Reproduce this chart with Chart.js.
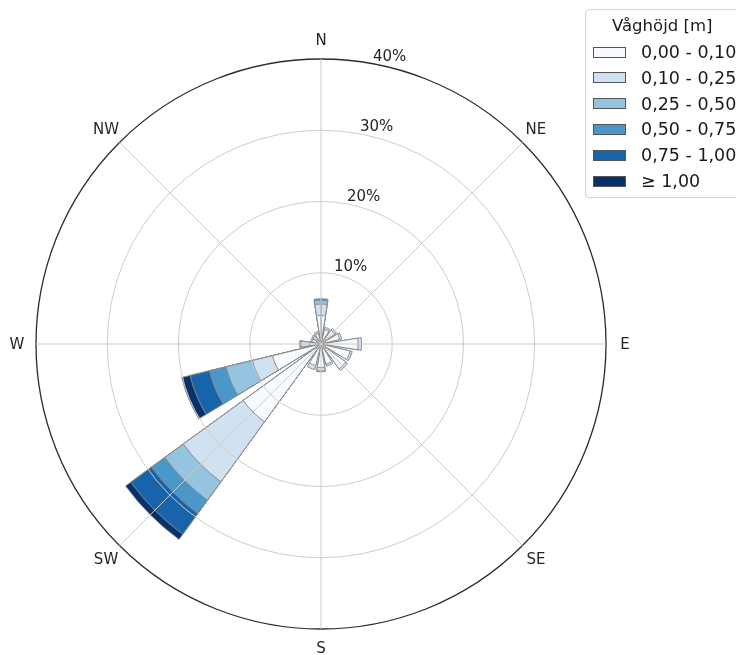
<!DOCTYPE html>
<html>
<head>
<meta charset="utf-8">
<script src="https://cdn.jsdelivr.net/npm/chart.js@4/dist/chart.umd.min.js"></script>
<style>
  html, body { margin: 0; padding: 0; background: #ffffff; overflow: hidden; }
  #wrap { position: relative; width: 736px; height: 655px; overflow: hidden; }
  #legend {
    position: absolute; left: 585px; top: 9px; width: 175px; height: 187px;
    border: 1px solid #d2d2d2; border-radius: 4px; background: rgba(255,255,255,0.85);
    font-family: "DejaVu Sans", sans-serif; color: #1a1a1a;
  }
  #legend .title { position: absolute; font-size: 16.5px; line-height: 20px; white-space: nowrap; }
  #legend .swatch { position: absolute; width: 33px; height: 11px; border: 1px solid #555555; box-sizing: border-box; }
  #legend .txt { position: absolute; font-size: 17.5px; line-height: 20px; white-space: nowrap; }
</style>
</head>
<body>
<div id="wrap">
  <canvas id="rose"></canvas>
  <div id="legend"></div>
</div>
<script>
// Compass sectors, clockwise from north
const directions = ['N', 'NNE', 'NE', 'ENE', 'E', 'ESE', 'SE', 'SSE',
                    'S', 'SSW', 'SW', 'WSW', 'W', 'WNW', 'NW', 'NNW'];

// Wave height classes [m]
const heightClasses = ['0,00 - 0,10', '0,10 - 0,25', '0,25 - 0,50',
                       '0,50 - 0,75', '0,75 - 1,00', '≥ 1,00'];
const legendTitle = 'Våghöjd [m]';

// Frequency of occurrence [%] per direction, one array per height class
const h000_010 = [4.0, 2.1, 2.4, 2.7, 5.2, 4.2, 4.3, 2.9, 3.3, 3.1, 13.5, 7.0, 1.6, 1.3, 1.4, 1.5];
const h010_025 = [1.6, 0.3, 0.3, 0.3, 0.5, 0.3, 0.3, 0.3, 0.5, 0.6, 10.4, 2.9, 1.2, 0.2, 0.2, 0.3];
const h025_050 = [0.5, 0, 0, 0, 0, 0, 0, 0, 0.1, 0, 3.2, 3.8, 0.2, 0, 0, 0];
const h050_075 = [0.25, 0, 0, 0, 0, 0, 0, 0, 0, 0, 2.3, 2.4, 0, 0, 0, 0];
const h075_100 = [0, 0, 0, 0, 0, 0, 0, 0, 0, 0, 3.6, 2.8, 0, 0, 0, 0];
const h100_up  = [0, 0, 0, 0, 0, 0, 0, 0, 0, 0, 0.9, 1.2, 0, 0, 0, 0];

// Radial rings [%]
const ringValues = [10, 20, 30, 40];

const classSeries = [h000_010, h010_025, h025_050, h050_075, h075_100, h100_up];
const palette = ['#f7fbff', '#d0e1f2', '#94c4df', '#4a98c9', '#1764ab', '#08306b'];
const edgeColor = '#8a8a8a';

// Each bar covers 80 % of its sector; the rest is an empty gap.
const SECTOR = 360 / directions.length;
const BAR = SECTOR * 0.8;
const GAP = SECTOR - BAR;

// Slot sequence around the circle starting at north: the north bar is split
// in two halves so the sequence can begin exactly on the 0° axis.
const slots = [{ dir: 0, angle: BAR / 2 }];
for (let d = 1; d < directions.length; d++) {
  slots.push({ dir: -1, angle: GAP });
  slots.push({ dir: d, angle: BAR });
}
slots.push({ dir: -1, angle: GAP });
slots.push({ dir: 0, angle: BAR / 2 });

// Stacked totals: class k reaches the sum of classes 0..k
const cumulative = classSeries.map((_, k) =>
  directions.map((_, d) => classSeries.slice(0, k + 1).reduce((s, arr) => s + arr[d], 0)));

const datasets = classSeries.map((series, k) => {
  const visible = (i) => { const s = slots[i]; return !!s && s.dir >= 0 && series[s.dir] > 0; };
  return {
    label: heightClasses[k],
    data: slots.map(s => (s.dir < 0 ? 0 : +cumulative[k][s.dir].toFixed(3))),
    angle: (ctx) => slots[ctx.dataIndex] ? slots[ctx.dataIndex].angle : SECTOR,
    backgroundColor: (ctx) => (visible(ctx.dataIndex) ? palette[k] : 'rgba(0,0,0,0)'),
    borderColor: edgeColor,
    borderWidth: (ctx) => (visible(ctx.dataIndex) ? 1 : 0),
    hoverBackgroundColor: (ctx) => (visible(ctx.dataIndex) ? palette[k] : 'rgba(0,0,0,0)')
  };
});

// Compass names and ring percentages
const roseText = {
  id: 'roseText',
  afterDraw(chart) {
    const scale = chart.scales.r;
    const c = chart.ctx;
    const size = 15;
    c.save();
    c.fillStyle = '#262626';
    c.font = size + 'px "DejaVu Sans", sans-serif';
    c.textAlign = 'center';
    c.textBaseline = 'alphabetic';
    directions.forEach((name, i) => {
      if (i % 2 !== 0) return;
      const p = scale.getPointPosition(i, scale.drawingArea + 19);
      c.fillText(name, p.x, p.y + 0.36 * size);
    });
    const theta = 10.5 * Math.PI / 180;
    c.textAlign = 'left';
    ringValues.forEach(v => {
      const r = scale.getDistanceFromCenterForValue(v);
      const x = scale.xCenter + r * Math.sin(theta);
      const y = scale.yCenter - r * Math.cos(theta);
      c.fillText(v + '%', x, y - 2.6);
    });
    c.restore();
  }
};

const outerValue = ringValues[ringValues.length - 1];

new Chart(document.getElementById('rose'), {
  type: 'polarArea',
  data: { labels: directions, datasets },
  options: {
    responsive: true,
    maintainAspectRatio: false,
    animation: false,
    events: [],
    layout: { padding: { left: 36, top: 59, right: 130, bottom: 26 } },
    plugins: { legend: { display: false }, tooltip: { enabled: false } },
    scales: {
      r: {
        min: 0,
        max: outerValue,
        startAngle: 0,
        ticks: { display: false, stepSize: 10 },
        pointLabels: { display: false },
        grid: {
          z: 1,
          circular: true,
          color: (ctx) => (ctx.tick && ctx.tick.value === outerValue ? '#2b2b2b' : '#cccccc'),
          lineWidth: (ctx) => (ctx.tick && ctx.tick.value === outerValue ? 1.3 : 1)
        },
        angleLines: {
          display: true,
          color: (ctx) => (ctx.index % 2 === 0 ? '#cccccc' : 'rgba(0,0,0,0)'),
          lineWidth: (ctx) => (ctx.index % 2 === 0 ? 1 : 0)
        }
      }
    }
  },
  plugins: [roseText]
});

// Legend
const legend = document.getElementById('legend');
const title = document.createElement('div');
title.className = 'title';
title.style.left = '26px';
title.style.top = '6px';
title.textContent = legendTitle;
legend.appendChild(title);
heightClasses.forEach((label, k) => {
  const cy = 42 + k * 25.8;
  const sw = document.createElement('div');
  sw.className = 'swatch';
  sw.style.left = '7px';
  sw.style.top = (cy - 5.5) + 'px';
  sw.style.background = palette[k];
  legend.appendChild(sw);
  const t = document.createElement('div');
  t.className = 'txt';
  t.style.left = '55px';
  t.style.top = (cy - 10) + 'px';
  t.textContent = label;
  legend.appendChild(t);
});
</script>
</body>
</html>
